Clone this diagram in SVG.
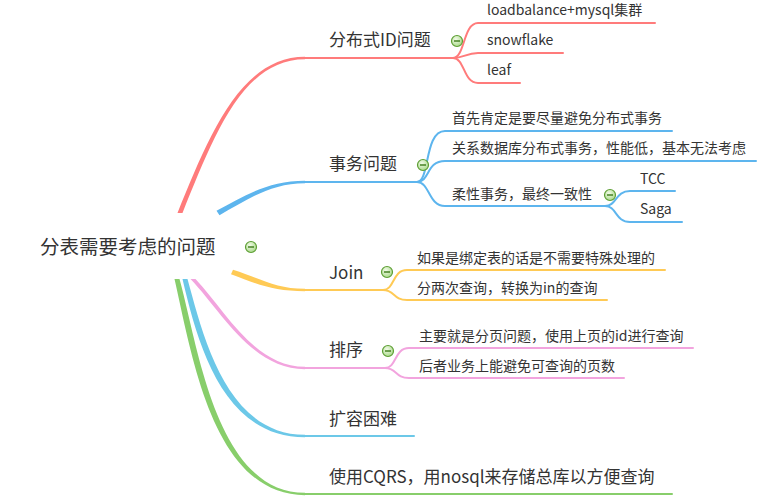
<svg xmlns="http://www.w3.org/2000/svg" xmlns:xlink="http://www.w3.org/1999/xlink" width="779" height="504" viewBox="0 0 779 504">
<style>
text{font-family:"Microsoft YaHei","Noto Sans CJK SC","Noto Sans",sans-serif;fill:#333;}
.root{font-size:19.5px;}
.l1{font-size:17px;}
.l2{font-size:14px;}
.s{fill:none;stroke-width:2;stroke-linecap:round;}
.red{stroke:#FF7B7B;} .redf{fill:#FF7B7B;}
.blue{stroke:#5DB5EE;} .bluef{fill:#5DB5EE;}
.yel{stroke:#FFCA55;} .yelf{fill:#FFCA55;}
.pink{stroke:#F2A4DE;} .pinkf{fill:#F2A4DE;}
.sky{stroke:#6CC8E8;} .skyf{fill:#6CC8E8;}
.grn{stroke:#88CE6B;} .grnf{fill:#88CE6B;}
</style>
<defs>
<radialGradient id="cg" cx="0.4" cy="0.35" r="0.7">
<stop offset="0" stop-color="#F2FBE8"/>
<stop offset="1" stop-color="#A6D886"/>
</radialGradient>
<g id="collapse">
<circle r="5.5" fill="url(#cg)" stroke="#5E9F35" stroke-width="1.2"/>
<line x1="-3" y1="0" x2="3" y2="0" stroke="#3C7A18" stroke-width="1.4"/>
</g>
</defs>
<rect width="779" height="504" fill="#fff"/>
<g id="connectors">
<!-- red main -->
<path class="redf" d="M177.5,213 C207.5,140 239,56.8 305,56.8 L305,59.2 C241,59.2 212.5,140 182.5,213 Z"/>
<path class="s red" d="M305,58 L453,58"/>
<path class="s red" d="M453,58 C465,58 463,23 478,23 L655,23"/>
<path class="s red" d="M453,58 C464,58 466,53 478,53 L563,53"/>
<path class="s red" d="M453,58 C465,58 463,83 478,83 L520,83"/>
<!-- blue main -->
<path class="bluef" d="M216.5,210.8 C244,196 268,180.8 305,180.8 L305,183.2 C270,183.2 247,200 219.5,215.2 Z"/>
<path class="s blue" d="M305,182 L417,182"/>
<path class="s blue" d="M417,182 C430,182 424,131 445,131 L672,131"/>
<path class="s blue" d="M417,182 C430,182 426,161 445,161 L756,161"/>
<path class="s blue" d="M417,182 C430,182 428,206 445,206 L605,206"/>
<path class="s blue" d="M605,206 C617,206 615,191 630,191 L675,191"/>
<path class="s blue" d="M605,206 C617,206 615,222 630,222 L682,222"/>
<!-- yellow main -->
<path class="yelf" d="M233,269.7 C262,279 276,288.8 305,288.8 L305,291.2 C274,291.2 259,285 231,274.3 Z"/>
<path class="s yel" d="M305,290 L383,290"/>
<path class="s yel" d="M383,290 C395,290 392,270 407,270 L665,270"/>
<path class="s yel" d="M383,290 C395,290 393,300 407,300 L607,300"/>
<!-- pink main -->
<path class="pinkf" d="M195.5,279 C225,310 254,366.8 305,366.8 L305,369.2 C252,369.2 222,312 190.5,279 Z"/>
<path class="s pink" d="M305,368 L385,368"/>
<path class="s pink" d="M385,368 C397,368 394,348 409,348 L693,348"/>
<path class="s pink" d="M385,368 C397,368 395,378 409,378 L624,378"/>
<!-- sky main -->
<path class="skyf" d="M187.5,279 C203,335 226,434.8 305,434.8 L305,437.2 C223,437.2 198,345 182.5,279 Z"/>
<path class="s sky" d="M305,436 L414,436"/>
<!-- green main -->
<path class="grnf" d="M179.5,279 C198,345 216,492.8 305,492.8 L305,495.2 C213,495.2 192,355 174.5,279 Z"/>
<path class="s grn" d="M305,494 L672,494"/>
</g>
<g id="root">
<text class="root" x="40" y="254">分表需要考虑的问题</text>
<use xlink:href="#collapse" x="251" y="247"/>
</g>
<g id="n-distid">
<text class="l1" x="329" y="46">分布式ID问题</text>
<use xlink:href="#collapse" x="457" y="41"/>
</g>
<g id="n-lb"><text class="l2" x="487" y="15">loadbalance+mysql集群</text></g>
<g id="n-snow"><text class="l2" x="487" y="45">snowflake</text></g>
<g id="n-leaf"><text class="l2" x="487" y="75">leaf</text></g>
<g id="n-tx">
<text class="l1" x="329" y="170">事务问题</text>
<use xlink:href="#collapse" x="423" y="165"/>
</g>
<g id="n-tx1"><text class="l2" x="452" y="123">首先肯定是要尽量避免分布式事务</text></g>
<g id="n-tx2"><text class="l2" x="452" y="153">关系数据库分布式事务，性能低，基本无法考虑</text></g>
<g id="n-tx3">
<text class="l2" x="452" y="199">柔性事务，最终一致性</text>
<use xlink:href="#collapse" x="610" y="195"/>
</g>
<g id="n-tcc"><text class="l2" x="640" y="184">TCC</text></g>
<g id="n-saga"><text class="l2" x="640" y="214">Saga</text></g>
<g id="n-join">
<text class="l1" x="329" y="279">Join</text>
<use xlink:href="#collapse" x="387" y="272"/>
</g>
<g id="n-join1"><text class="l2" x="417" y="263">如果是绑定表的话是不需要特殊处理的</text></g>
<g id="n-join2"><text class="l2" x="417" y="293">分两次查询，转换为in的查询</text></g>
<g id="n-sort">
<text class="l1" x="329" y="356">排序</text>
<use xlink:href="#collapse" x="388" y="351"/>
</g>
<g id="n-sort1"><text class="l2" x="419" y="341">主要就是分页问题，使用上页的id进行查询</text></g>
<g id="n-sort2"><text class="l2" x="419" y="371">后者业务上能避免可查询的页数</text></g>
<g id="n-scale"><text class="l1" x="329" y="425">扩容困难</text></g>
<g id="n-cqrs"><text class="l1" x="329" y="483">使用CQRS，用nosql来存储总库以方便查询</text></g>
</svg>
